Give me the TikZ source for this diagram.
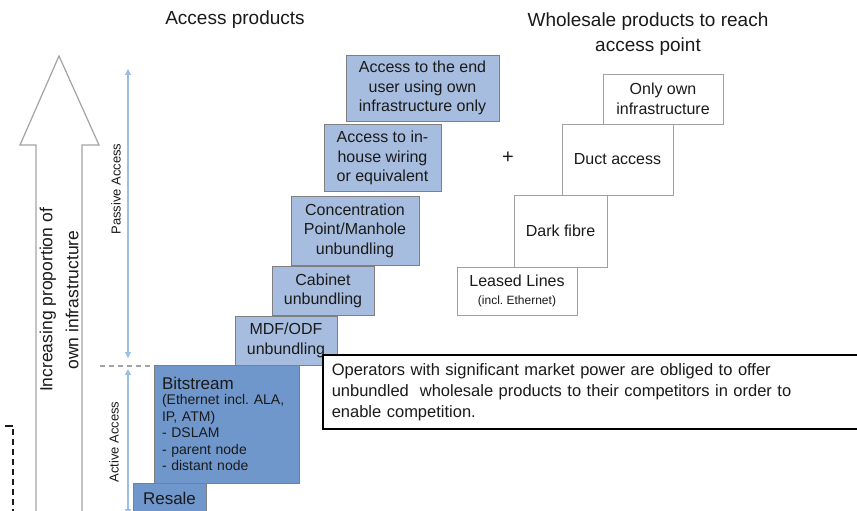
\documentclass[tikz,border=0pt]{standalone}
\usepackage{fontspec}
\setmainfont{Liberation Sans}
\usetikzlibrary{arrows.meta}
\frenchspacing

\definecolor{txt}{HTML}{1A1A1A}
\definecolor{lightblue}{HTML}{A7BDDF}
\definecolor{darkblue}{HTML}{6F97CC}
\definecolor{boxgray}{HTML}{7F7F7F}
\definecolor{wgray}{HTML}{A0A0A0}
\definecolor{rangeblue}{HTML}{9DBFE6}
\definecolor{arrowgray}{HTML}{A3A3A3}

\tikzset{
  basebox/.style={inner sep=0pt, align=center, text=txt,
    font=\fontsize{16}{19.5}\selectfont},
  lbox/.style={basebox, draw=boxgray, fill=lightblue, line width=0.8pt},
  dbox/.style={basebox, draw=boxgray, fill=darkblue, line width=0.8pt},
  wbox/.style={basebox, draw=wgray, fill=white, line width=0.8pt},
  title/.style={text=txt, align=center, font=\fontsize{19}{25}\selectfont},
  rangelabel/.style={text=txt, rotate=90, font=\fontsize{13}{15}\selectfont},
  rangearrow/.style={draw=rangeblue, line width=1.1pt,
    {Triangle[width=6pt,length=6pt]}-{Triangle[width=6pt,length=6pt]}},
}

\begin{document}
\begin{tikzpicture}[x=1pt, y=-1pt]
\useasboundingbox (0,0) rectangle (857,511);
\fill[white] (0,0) rectangle (857,511);

% headings
\node[title] (ttlaccess) at (235,20) {Access products};
\node[title] (ttlwhole) at (648,34) {Wholesale products to reach\\access point};

% hollow arrow on the left
\draw[arrowgray, line width=1.2pt, fill=white]
  (36,530) -- (36,145) -- (20,145) -- (59,56) -- (99,145) -- (82,145) -- (82,530);
\node[text=txt, rotate=90, align=center, font=\fontsize{17.5}{26}\selectfont]
  (bigarrowtxt) at (59,300) {Increasing proportion of\\own infrastructure};

% dashed fragment at the lower left
\coordinate (dtop) at (13,429);
\coordinate (dbot) at (13,515);
\coordinate (dstub) at (5,426);
\draw[txt, line width=1.2pt, dash pattern=on 6pt off 4pt] (dtop) -- (dbot);
\draw[txt, line width=1.2pt] (dstub) -- ++(8,0);

% passive / active ranges
\coordinate (pa1) at (128,69);
\coordinate (pa2) at (128,358);
\coordinate (aa1) at (128,369);
\coordinate (aa2) at (128,515);
\draw[rangearrow] (pa1) -- (pa2);
\draw[rangearrow] (aa1) -- (aa2);
\coordinate (sepl) at (100,366);
\coordinate (sepr) at (156,366);
\draw[draw=arrowgray, line width=1.1pt, dash pattern=on 5pt off 4pt] (sepl) -- (sepr);
\node[rangelabel] (passlbl) at (116,189) {Passive Access};
\node[rangelabel] (actlbl) at (114,442) {Active Access};

% access product staircase
\node[lbox, minimum width=153pt, minimum height=66pt] (endu) at (422.5,88)
  {Access to the end\\user using own\\infrastructure only};
\node[lbox, minimum width=117pt, minimum height=67pt] (inhouse) at (382.5,158)
  {Access to in-\\house wiring\\or equivalent};
\node[lbox, minimum width=128pt, minimum height=69pt] (conc) at (355,230.5)
  {Concentration\\Point/Manhole\\unbundling};
\node[lbox, minimum width=102pt, minimum height=49pt] (cab) at (323,291)
  {Cabinet\\unbundling};
\node[lbox, minimum width=102pt, minimum height=49pt] (mdf) at (286,340.5)
  {MDF/ODF\\unbundling};
\node[dbox, minimum width=145pt, minimum height=118pt, align=left,
      text width=129pt, inner xsep=8pt, font=\fontsize{14}{16.5}\selectfont]
  (bits) at (226.5,424)
  {{\fontsize{17}{20}\selectfont Bitstream}\\[-1pt](Ethernet incl. ALA,\\IP, ATM)\\- DSLAM\\- parent node\\- distant node};
\node[dbox, minimum width=73pt, minimum height=31pt, font=\fontsize{17}{20}\selectfont]
  (resale) at (169.5,498.5) {Resale};

% wholesale staircase
\node[wbox, minimum width=120pt, minimum height=50pt] (ownonly) at (663,99)
  {Only own\\infrastructure};
\node[wbox, minimum width=111pt, minimum height=71pt] (duct) at (617.5,159.5)
  {Duct access};
\node[wbox, minimum width=93pt, minimum height=72pt] (dark) at (560.5,231)
  {Dark fibre};
\node[wbox, minimum width=120pt, minimum height=48pt] (leased) at (517,291)
  {Leased Lines\\[-2pt]{\fontsize{12}{14}\selectfont (incl. Ethernet)}};

\node[text=txt, font=\fontsize{20}{22}\selectfont] (plus) at (508,158) {+};

% explanatory note
\node[draw=black, fill=white, line width=1.6pt, anchor=north west,
      minimum width=535pt, minimum height=74pt, inner xsep=9pt, inner ysep=0pt,
      text width=517pt, align=left, text=txt, font=\fontsize{16.5}{21}\selectfont]
  (note) at (322,354)
  {Operators with significant market power are obliged to offer\\
   unbundled\ \ wholesale products to their competitors in order to\\
   enable competition.};
\end{tikzpicture}
\end{document}
